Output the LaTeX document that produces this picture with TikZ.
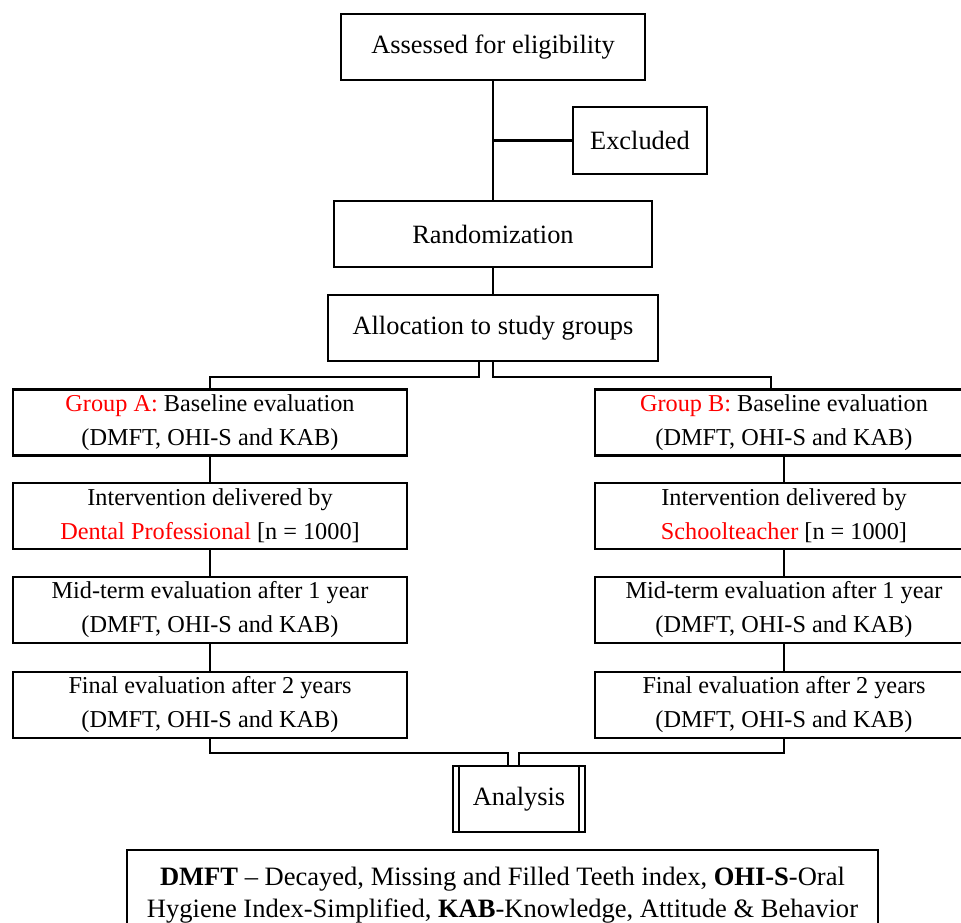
\documentclass[tikz,border=0pt]{standalone}
\usepackage{fontspec}
\setmainfont{Liberation Serif}
\usetikzlibrary{positioning,calc}
\newcommand{\redtxt}[1]{\textcolor{red}{#1}}
\tikzset{
  box/.style={rectangle,draw,line width=1.6pt,inner sep=0pt,align=center,minimum height=49.5pt},
  bigbox/.style={box,font=\fontsize{19.8}{24}\selectfont},
  grpbox/.style={box,font=\fontsize{18.2}{25.5}\selectfont},
  legbox/.style={box,font=\fontsize{19.9}{24}\selectfont},
  link/.style={line width=1.6pt},
}
\begin{document}
\begin{tikzpicture}[x=0.75pt,y=0.75pt]
  \useasboundingbox (0,0) rectangle (961,-923);
  % ---- enrolment ----
  \node[bigbox,minimum width=228pt] (assess) at (493,-47) {Assessed for eligibility};
  \node[bigbox,minimum width=100.5pt,minimum height=50.25pt] (excl) at (640,-140.5) {Excluded};
  \node[bigbox,minimum width=238.5pt] (rand) at (493,-234) {Randomization};
  \node[bigbox,minimum width=247.5pt] (alloc) at (493,-328) {Allocation to study groups};
  % ---- group A ----
  \node[grpbox,minimum width=295.5pt] (gA1) at (210,-422.5) {\redtxt{Group A:} Baseline evaluation\\(DMFT, OHI-S and KAB)};
  \node[grpbox,minimum width=295.5pt] (gA2) at (210,-516) {Intervention delivered by\\\redtxt{Dental Professional} [n = 1000]};
  \node[grpbox,minimum width=295.5pt] (gA3) at (210,-610) {Mid-term evaluation after 1 year\\(DMFT, OHI-S and KAB)};
  \node[grpbox,minimum width=295.5pt] (gA4) at (210,-705) {Final evaluation after 2 years\\(DMFT, OHI-S and KAB)};
  % ---- group B ----
  \node[grpbox,minimum width=283.5pt] (gB1) at (784,-422.5) {\redtxt{Group B:} Baseline evaluation\\(DMFT, OHI-S and KAB)};
  \node[grpbox,minimum width=283.5pt] (gB2) at (784,-516) {Intervention delivered by\\\redtxt{Schoolteacher} [n = 1000]};
  \node[grpbox,minimum width=283.5pt] (gB3) at (784,-610) {Mid-term evaluation after 1 year\\(DMFT, OHI-S and KAB)};
  \node[grpbox,minimum width=283.5pt] (gB4) at (784,-705) {Final evaluation after 2 years\\(DMFT, OHI-S and KAB)};
  % ---- analysis ----
  \node[bigbox,minimum width=99pt] (anal) at (519,-799) {Analysis};
  \draw[link] ([xshift=5.25pt]anal.north west) -- ([xshift=5.25pt]anal.south west);
  \draw[link] ([xshift=-5.25pt]anal.north east) -- ([xshift=-5.25pt]anal.south east);
  % ---- legend ----
  \node[legbox,minimum width=563.25pt,minimum height=67.5pt] (legend) at (502.5,-895)
    {\textbf{DMFT} -- Decayed, Missing and Filled Teeth index, \textbf{OHI-S}-Oral\\
     Hygiene Index-Simplified, \textbf{KAB}-Knowledge, Attitude \& Behavior};
  % ---- connectors ----
  \draw[link] (assess) -- (rand);
  \draw[link] (excl.west) -- (excl.west -| assess.south);
  \draw[link] (rand) -- (alloc);
  \draw[link] ([xshift=-10.5pt]alloc.south) -- ++(0,-15) -| (gA1);
  \draw[link] (alloc.south) -- ++(0,-15) -| ([xshift=-9.75pt]gB1.north);
  \draw[link] (gA1) -- (gA2);
  \draw[link] (gA2) -- (gA3);
  \draw[link] (gA3) -- (gA4);
  \draw[link] (gB1) -- (gB2);
  \draw[link] (gB2) -- (gB3);
  \draw[link] (gB3) -- (gB4);
  \draw[link] (gA4.south) -- ++(0,-14) -| ([xshift=-8.25pt]anal.north);
  \draw[link] (gB4.south) -- ++(0,-14) -| (anal.north);
\end{tikzpicture}
\end{document}
